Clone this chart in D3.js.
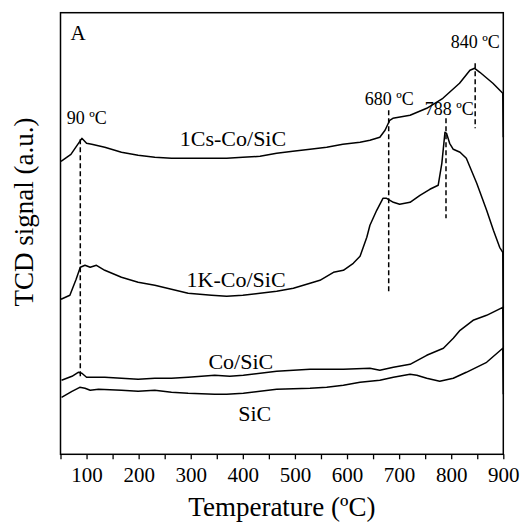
<!DOCTYPE html>
<html>
<head>
<meta charset="utf-8">
<script src="https://cdn.jsdelivr.net/npm/d3@7"></script>
<style>
  body { margin: 0; background: #fff; }
  text { font-family: "Liberation Serif", "Times New Roman", serif; fill: #000; }
</style>
</head>
<body>
<div id="plot"></div>
<script>
// TPR curves, signal in arbitrary units
const csTemp   = [51, 70, 91, 100, 110, 135, 167, 199, 231, 263, 295, 340, 369, 400, 433, 465, 496, 529, 561, 592, 625, 644, 663, 673, 682, 688, 721, 753, 784, 816, 836, 845, 855, 880, 899, 900];
const csSignal = [293, 300, 316, 311, 310, 307, 302, 299, 297, 296, 296, 296, 296, 297, 298, 301, 303, 305, 307, 310, 312, 314, 317, 324, 334, 336, 339, 346, 356, 371, 384, 386, 382, 371, 361, 317];

const kTemp   = [51, 68, 80, 88, 97, 107, 119, 135, 167, 199, 231, 263, 295, 340, 369, 400, 433, 465, 497, 529, 548, 574, 593, 612, 625, 638, 644, 657, 669, 676, 689, 701, 721, 740, 759, 775, 782, 788, 791, 797, 804, 817, 829, 849, 868, 881, 893, 899, 900];
const kSignal = [155, 159, 175, 187, 189, 187, 189, 184, 177, 172, 169, 165, 161, 159, 158, 159, 161, 163, 166, 171, 174, 182, 184, 191, 198, 217, 229, 244, 256, 256, 252, 250, 252, 259, 265, 269, 291, 322, 321, 311, 305, 302, 296, 271, 244, 224, 207, 202, 146];

const coTemp   = [52, 72, 84, 91, 100, 135, 167, 199, 231, 263, 295, 346, 375, 401, 465, 497, 529, 593, 644, 663, 689, 721, 753, 785, 804, 817, 842, 868, 899, 900];
const coSignal = [74, 78, 82, 81, 77, 77, 76, 75, 76, 76, 77, 79, 78, 79, 83, 84, 85, 85, 86, 84, 87, 90, 99, 106, 116, 124, 134, 139, 147, 106];

const sicTemp   = [52, 72, 87, 97, 107, 123, 167, 199, 231, 263, 295, 346, 369, 401, 433, 465, 529, 561, 593, 625, 663, 689, 721, 734, 753, 778, 804, 829, 868, 899, 900];
const sicSignal = [57, 63, 67, 66, 64, 65, 64, 63, 64, 62, 61, 60, 60, 61, 63, 65, 66, 67, 69, 72, 74, 77, 80, 79, 76, 73, 76, 82, 92, 106, 60];

// peak markers
const peakTemps  = [88, 680, 790, 846];
const peakTop    = [315, 344, 336, 391];
const peakBottom = [76, 161, 236, 326];
const peakLabels = ["90 ºC", "680 ºC", "788 ºC", "840 ºC"];
const peakLabelT = [62, 634, 749, 799];
const peakLabelS = [330, 349, 339, 406];

// sample names
const sampleNames = ["1Cs-Co/SiC", "1K-Co/SiC", "Co/SiC", "SiC"];
const sampleLabelT = [279, 292, 334, 391];
const sampleLabelS = [308, 167, 85, 33];

const xTicks = [50, 100, 150, 200, 250, 300, 350, 400, 450, 500, 550, 600, 650, 700, 750, 800, 850, 900];

const width = 522, height = 522;
const m = { left: 60.5, right: 503.3, top: 12.7, bottom: 454.3 };

const svg = d3.select("div#plot")
  .append("svg")
  .attr("width", width)
  .attr("height", height);

const x = d3.scaleLinear().domain([50, 900]).range([m.left, m.right]);
const y = d3.scaleLinear().domain([0, 441.6]).range([m.bottom, m.top]);

// x axis
const xAxis = d3.axisBottom(x)
  .tickValues(xTicks)
  .tickSize(5)
  .tickFormat(function(d) { return d % 100 === 0 ? d : ""; });

const gx = svg.append("g")
  .attr("transform", `translate(0, ${m.bottom})`)
  .call(xAxis);
gx.select(".domain").remove();
gx.selectAll(".tick line").attr("stroke", "#000").attr("stroke-width", 1.3);
gx.selectAll(".tick text")
  .attr("y", 13)
  .attr("dy", "0.71em")
  .style("font-size", "21px")
  .style("font-family", "Liberation Serif");

// frame
svg.append("rect")
  .attr("x", m.left)
  .attr("y", m.top)
  .attr("width", m.right - m.left)
  .attr("height", m.bottom - m.top)
  .attr("fill", "none")
  .attr("stroke", "#000")
  .attr("stroke-width", 1.5);

const line = d3.line()
  .x(function(d) { return x(d[0]); })
  .y(function(d) { return y(d[1]); });

const series = [
  d3.zip(csTemp, csSignal),
  d3.zip(kTemp, kSignal),
  d3.zip(coTemp, coSignal),
  d3.zip(sicTemp, sicSignal)
];

svg.selectAll(".curve")
  .data(series)
  .join("path")
  .attr("class", "curve")
  .attr("d", line)
  .attr("fill", "none")
  .attr("stroke", "#000")
  .attr("stroke-width", 1.5)
  .attr("stroke-linejoin", "round");

svg.selectAll(".peak-line")
  .data(peakTemps)
  .join("line")
  .attr("class", "peak-line")
  .attr("x1", function(d) { return x(d); })
  .attr("x2", function(d) { return x(d); })
  .attr("y1", function(d, i) { return y(peakTop[i]); })
  .attr("y2", function(d, i) { return y(peakBottom[i]); })
  .attr("stroke", "#000")
  .attr("stroke-width", 1.5)
  .attr("stroke-dasharray", "5,3");

svg.selectAll(".peak-text")
  .data(peakLabels)
  .join("text")
  .attr("class", "peak-text")
  .attr("x", function(d, i) { return x(peakLabelT[i]); })
  .attr("y", function(d, i) { return y(peakLabelS[i]); })
  .style("font-size", "18px")
  .text(function(d) { return d; });

svg.selectAll(".sample-text")
  .data(sampleNames)
  .join("text")
  .attr("class", "sample-text")
  .attr("x", function(d, i) { return x(sampleLabelT[i]); })
  .attr("y", function(d, i) { return y(sampleLabelS[i]); })
  .style("font-size", "22px")
  .text(function(d) { return d; });

svg.append("text")
  .attr("x", m.left + 10)
  .attr("y", m.top + 27)
  .style("font-size", "21px")
  .text("A");

svg.append("text")
  .attr("x", (m.left + m.right) / 2)
  .attr("y", 516)
  .attr("text-anchor", "middle")
  .style("font-size", "27px")
  .text("Temperature (ºC)");

svg.append("text")
  .attr("transform", "translate(33, 212) rotate(-90)")
  .attr("text-anchor", "middle")
  .style("font-size", "27px")
  .text("TCD signal (a.u.)");
</script>
</body>
</html>
